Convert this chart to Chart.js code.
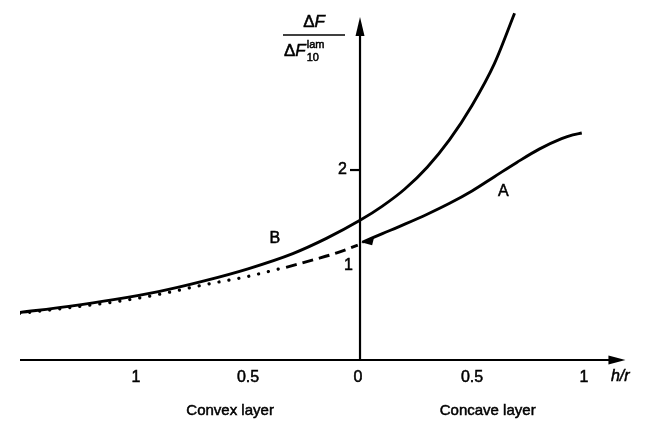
<!DOCTYPE html>
<html><head><meta charset="utf-8">
<script src="https://cdn.jsdelivr.net/npm/chart.js@4/dist/chart.umd.min.js"></script>
<style>html,body{margin:0;padding:0;background:#fff}</style>
</head><body>
<canvas id="c" width="650" height="422"></canvas>
<script>
// Curve B (solid, upper)
const curveBX = [-1.52, -1.3, -1.1, -0.9, -0.7, -0.5, -0.3, -0.15, 0, 0.1, 0.2, 0.3, 0.4, 0.5, 0.6, 0.69];
const curveBY = [0.50, 0.565, 0.635, 0.72, 0.83, 0.96, 1.12, 1.28, 1.47, 1.62, 1.80, 2.03, 2.32, 2.68, 3.12, 3.65];
// Curve A (solid, concave side)
const curveAX = [0.01, 0.1, 0.2, 0.3, 0.4, 0.5, 0.6, 0.7, 0.8, 0.9, 0.95, 0.99];
const curveAY = [1.24, 1.33, 1.43, 1.535, 1.65, 1.78, 1.93, 2.08, 2.22, 2.33, 2.37, 2.39];
// Dashed continuation of A on convex side
const dashedX = [-0.33, -0.2, -0.1, -0.01];
const dashedY = [0.975, 1.06, 1.13, 1.21];
// Dotted curve
const dottedX = [-1.52, -1.3, -1.1, -0.9, -0.7, -0.5, -0.36];
const dottedY = [0.49, 0.55, 0.61, 0.69, 0.79, 0.88, 0.96];
// Axis ticks
const xTicks = [-1, -0.5, 0, 0.5, 1];
const xTickLabels = ["1", "0.5", "0", "0.5", "1"];
const yTicks = [1, 2];
const yTickLabels = ["1", "2"];
const sideLabels = ["Convex layer", "Concave layer"];
const curveNames = ["A", "B"];

const pts = (xs, ys) => xs.map((x, i) => ({x, y: ys[i]}));
const FONT = '"Liberation Sans", Arial, sans-serif';

function txt(ctx, s, x, y) {
  ctx.fillText(s, x, y);
  ctx.strokeText(s, x, y);
}

const deco = {
  id: 'deco',
  afterDraw(chart) {
    const ctx = chart.ctx, xs = chart.scales.x, ys = chart.scales.y;
    const x0 = xs.getPixelForValue(0), y0 = ys.getPixelForValue(0);
    ctx.save();
    ctx.strokeStyle = '#000'; ctx.fillStyle = '#000'; ctx.lineWidth = 2.2;
    // x axis
    const xEnd = xs.getPixelForValue(1.185);
    ctx.beginPath(); ctx.moveTo(xs.getPixelForValue(-1.518), y0); ctx.lineTo(xEnd - 10, y0); ctx.stroke();
    ctx.beginPath(); ctx.moveTo(xEnd, y0); ctx.lineTo(xEnd - 17, y0 - 4.5); ctx.lineTo(xEnd - 17, y0 + 4.5); ctx.closePath(); ctx.fill();
    // y axis
    const yEnd = ys.getPixelForValue(3.61);
    ctx.beginPath(); ctx.moveTo(x0, y0); ctx.lineTo(x0, yEnd + 10); ctx.stroke();
    ctx.beginPath(); ctx.moveTo(x0, yEnd); ctx.lineTo(x0 - 4.5, yEnd + 19); ctx.lineTo(x0 + 4.5, yEnd + 19); ctx.closePath(); ctx.fill();
    // y tick at 2
    const y2 = ys.getPixelForValue(2);
    ctx.beginPath(); ctx.moveTo(x0 - 10, y2); ctx.lineTo(x0, y2); ctx.stroke();
    // tick labels
    ctx.lineWidth = 0.5;
    ctx.font = '16px ' + FONT; ctx.textBaseline = 'middle';
    ctx.textAlign = 'center';
    xTicks.forEach((v, i) => txt(ctx, xTickLabels[i], xs.getPixelForValue(v) - (v === 0 ? 2 : 0), y0 + 18));
    ctx.textAlign = 'right';
    yTicks.forEach((v, i) => txt(ctx, yTickLabels[i], x0 - (v === 2 ? 13 : 7), ys.getPixelForValue(v) + (v === 1 ? 1 : 0)));
    // h/r
    ctx.textAlign = 'left';
    ctx.font = 'italic 16px ' + FONT;
    txt(ctx, 'h/r', xs.getPixelForValue(1.12), y0 + 17);
    // side labels
    ctx.font = '15px ' + FONT; ctx.textAlign = 'center';
    txt(ctx, sideLabels[0], xs.getPixelForValue(-0.58), y0 + 51);
    txt(ctx, sideLabels[1], xs.getPixelForValue(0.57), y0 + 51);
    // curve names
    ctx.font = '16px ' + FONT;
    txt(ctx, curveNames[0], xs.getPixelForValue(0.64), ys.getPixelForValue(1.77));
    txt(ctx, curveNames[1], xs.getPixelForValue(-0.38), ys.getPixelForValue(1.28));
    // arrow head of A at axis
    const ax = xs.getPixelForValue(0.005), ay = ys.getPixelForValue(1.24);
    ctx.beginPath(); ctx.moveTo(ax, ay); ctx.lineTo(ax + 13, ay - 5); ctx.lineTo(ax + 11, ay + 3); ctx.closePath(); ctx.fill();
    // fraction label
    const fx = 314;
    ctx.textBaseline = 'alphabetic';
    ctx.font = '17px ' + FONT;
    const tw = ctx.measureText('Δ').width;
    ctx.font = 'italic 17px ' + FONT;
    const fw = ctx.measureText('F').width;
    let sx = fx - (tw + fw) / 2;
    ctx.textAlign = 'left';
    ctx.font = '17px ' + FONT; txt(ctx, 'Δ', sx, 27);
    ctx.font = 'italic 17px ' + FONT; txt(ctx, 'F', sx + tw, 27);
    ctx.lineWidth = 1.6;
    ctx.beginPath(); ctx.moveTo(fx - 31, 35); ctx.lineTo(fx + 31, 35); ctx.stroke();
    ctx.lineWidth = 0.5;
    sx = fx - 30;
    ctx.font = '17px ' + FONT; txt(ctx, 'Δ', sx, 56);
    ctx.font = 'italic 17px ' + FONT; txt(ctx, 'F', sx + tw, 56);
    ctx.font = '11px ' + FONT;
    txt(ctx, '10', sx + tw + fw + 1, 61);
    txt(ctx, 'lam', sx + tw + fw + 1, 48);
    ctx.restore();
  }
};

new Chart(document.getElementById('c'), {
  type: 'scatter',
  data: {
    datasets: [
      {data: pts(curveBX, curveBY), showLine: true, borderColor: '#000', borderWidth: 2.9, pointRadius: 0, cubicInterpolationMode: 'monotone'},
      {data: pts(curveAX, curveAY), showLine: true, borderColor: '#000', borderWidth: 2.9, pointRadius: 0, cubicInterpolationMode: 'monotone'},
      {data: pts(dashedX, dashedY), showLine: true, borderColor: '#000', borderWidth: 2.9, pointRadius: 0, borderDash: [11, 6], cubicInterpolationMode: 'monotone'},
      {data: pts(dottedX, dottedY), showLine: true, borderColor: '#000', borderWidth: 3.2, pointRadius: 0, borderDash: [0.1, 10], borderCapStyle: 'round', cubicInterpolationMode: 'monotone'}
    ]
  },
  options: {
    responsive: false, animation: false, devicePixelRatio: 1,
    layout: {padding: {left: 20, right: 10, top: 0, bottom: 62}},
    plugins: {legend: {display: false}, tooltip: {enabled: false}},
    scales: {
      x: {type: 'linear', display: false, min: -1.518, max: 1.25},
      y: {type: 'linear', display: false, min: 0, max: 3.79}
    }
  },
  plugins: [deco]
});
</script>
</body></html>
